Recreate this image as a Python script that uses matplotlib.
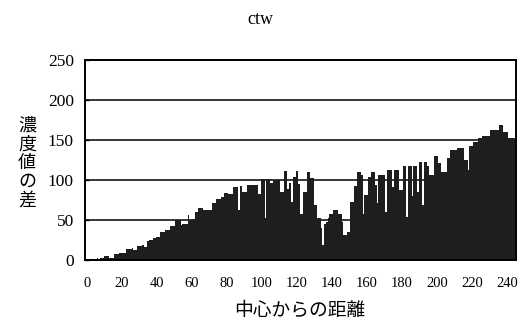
import numpy as np
import matplotlib
matplotlib.use("Agg")
import matplotlib.pyplot as plt

# 中心からの距離ごとの濃度値の差 (0〜244)
diff_values = [
    1, 1, 0, 1, 1, 1, 2, 1, 2, 2,
    5, 5, 5, 2, 2, 3, 8, 8, 8, 9,
    9, 9, 9, 14, 14, 14, 15, 12, 12, 18,
    18, 18, 19, 16, 16, 24, 25, 25, 28, 28,
    29, 29, 35, 35, 35, 38, 38, 38, 42, 42,
    43, 50, 50, 50, 44, 45, 45, 45, 56, 50,
    50, 51, 60, 60, 65, 65, 65, 63, 63, 63,
    63, 63, 71, 71, 76, 76, 76, 79, 79, 84,
    84, 82, 82, 82, 91, 91, 91, 63, 92, 85,
    85, 85, 94, 94, 94, 94, 94, 94, 82, 82,
    101, 101, 52, 101, 101, 96, 96, 100, 100, 100,
    100, 85, 85, 111, 111, 89, 96, 72, 104, 104,
    111, 95, 58, 58, 85, 85, 110, 110, 102, 102,
    69, 69, 52, 52, 40, 19, 45, 48, 52, 58,
    58, 62, 62, 62, 58, 58, 48, 31, 31, 35,
    35, 73, 73, 92, 92, 110, 110, 106, 58, 81,
    81, 104, 104, 110, 110, 94, 71, 106, 106, 106,
    106, 60, 113, 113, 113, 91, 113, 113, 113, 87,
    87, 117, 117, 54, 117, 117, 80, 117, 117, 85,
    123, 123, 69, 123, 123, 118, 106, 106, 106, 130,
    130, 121, 121, 110, 110, 110, 127, 127, 137, 137,
    137, 137, 140, 140, 140, 140, 125, 125, 112, 143,
    143, 147, 147, 147, 152, 152, 155, 155, 155, 155,
    155, 162, 162, 162, 162, 162, 169, 169, 160, 160,
    160, 153, 153, 153, 153,
]
# 各棒の左右端 (幅1)
edges = np.arange(len(diff_values) + 1) - 0.5

x_ticks = list(range(0, 241, 20))
y_ticks = [0, 50, 100, 150, 200, 250]

serif = "Liberation Serif"
jp = ["Noto Sans CJK JP", "DejaVu Sans"]

fig = plt.figure(figsize=(5.3, 3.24), dpi=100)
ax = fig.add_axes([0.1604, 0.1975, 0.8132, 0.6173])

# 隙間なく並ぶ棒を一つの塗りつぶし階段として描く
ax.stairs(diff_values, edges, fill=True, color="#1e1e1e", zorder=2)

ax.set_xlim(-1.1, 245.1)
ax.set_ylim(0, 250)
ax.set_xticks(x_ticks)
ax.set_yticks(y_ticks)
ax.set_xticklabels([str(t) for t in x_ticks], fontfamily=serif, fontsize=10.5)
ax.set_yticklabels([str(t) for t in y_ticks], fontfamily=serif, fontsize=12.5)
ax.tick_params(axis="x", length=0, pad=12)
ax.tick_params(axis="y", direction="in", length=3, width=1, pad=8)

ax.yaxis.grid(True, color="black", linewidth=1.1, zorder=1)
ax.set_axisbelow(True)
for s in ax.spines.values():
    s.set_linewidth(1.4)
    s.set_color("black")

# タイトルと軸ラベル
fig.text(0.492, 1 - 20 / 324, "ctw", ha="center", va="center",
         fontfamily=serif, fontsize=13)
fig.text(300 / 530, 1 - 310 / 324, "中心からの距離", ha="center", va="center",
         family=jp, fontsize=13.5)
fig.text(27 / 530, 1 - 163 / 324, "\n".join("濃度値の差"), ha="center",
         va="center", family=jp, fontsize=13, linespacing=1.05)

fig.savefig("out.png", dpi=100)
